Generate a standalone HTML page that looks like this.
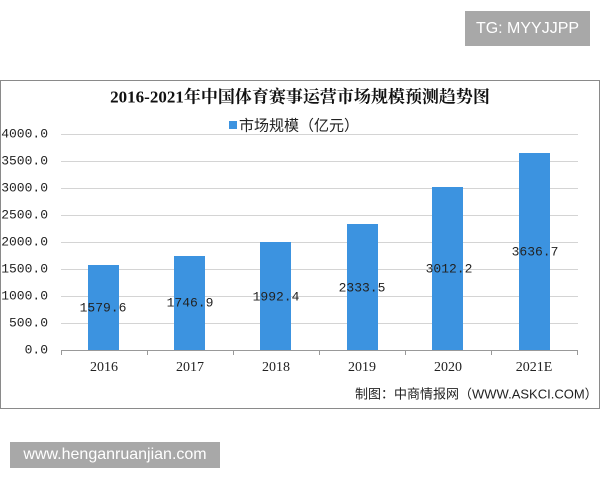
<!DOCTYPE html>
<html><head><meta charset="utf-8"><style>
body{margin:0;background:#fff;width:600px;height:480px;position:relative;overflow:hidden;font-family:"Liberation Serif","Noto Serif CJK SC",serif}
.abs{position:absolute}
.tick{position:absolute;right:552px;font-size:13px;color:#222;transform:translateY(-50%);white-space:nowrap;font-family:"Liberation Mono",monospace}
.bar{position:absolute;background:#3c93e0;width:31px}
.val{position:absolute;font-size:13px;color:#222;transform:translate(-50%,-50%);white-space:nowrap;font-family:"Liberation Mono",monospace}
.yr{position:absolute;top:368px;font-size:14px;color:#222;transform:translate(-50%,-50%)}
.grid{position:absolute;left:61px;width:517px;height:1px;background:#d4d4d4}
</style></head><body>
<div class="abs" style="left:465px;top:11px;width:125px;height:35px;background:#a8a8a8;color:#fff;font:16px 'Liberation Sans',sans-serif;line-height:35px;text-align:center">TG: MYYJJPP</div>
<div class="abs" style="left:0;top:80px;width:598px;height:327px;border:1px solid #8a8a8a"></div>
<div class="abs" style="left:0;top:95px;width:600px;text-align:center;font-size:17px;font-weight:bold;color:#111;transform:translateY(-50%);font-family:'Liberation Serif','Noto Serif CJK SC',serif">2016-2021年中国体育赛事运营市场规模预测趋势图</div>
<div class="abs" style="left:229px;top:121px;width:8px;height:8px;background:#3c93e0"></div>
<div class="abs" style="left:239px;top:125px;font-size:15px;color:#222;transform:translateY(-50%);font-family:'Liberation Sans','Noto Sans CJK SC',sans-serif">市场规模（亿元）</div>
<div class="grid" style="top:134px"></div><div class="grid" style="top:161px"></div><div class="grid" style="top:188px"></div><div class="grid" style="top:215px"></div><div class="grid" style="top:242px"></div><div class="grid" style="top:269px"></div><div class="grid" style="top:296px"></div><div class="grid" style="top:323px"></div>
<div class="abs" style="left:61px;top:350px;width:517px;height:1px;background:#999"></div>
<div class="abs" style="left:61px;top:350px;width:1px;height:5px;background:#999"></div>
<div class="abs" style="left:147px;top:350px;width:1px;height:5px;background:#999"></div>
<div class="abs" style="left:233px;top:350px;width:1px;height:5px;background:#999"></div>
<div class="abs" style="left:319px;top:350px;width:1px;height:5px;background:#999"></div>
<div class="abs" style="left:405px;top:350px;width:1px;height:5px;background:#999"></div>
<div class="abs" style="left:491px;top:350px;width:1px;height:5px;background:#999"></div>
<div class="abs" style="left:577px;top:350px;width:1px;height:5px;background:#999"></div>
<div class="tick" style="top:134px">4000.0</div><div class="tick" style="top:161px">3500.0</div><div class="tick" style="top:188px">3000.0</div><div class="tick" style="top:215px">2500.0</div><div class="tick" style="top:242px">2000.0</div><div class="tick" style="top:269px">1500.0</div><div class="tick" style="top:296px">1000.0</div><div class="tick" style="top:323px">500.0</div><div class="tick" style="top:350px">0.0</div>
<div class="bar" style="left:88px;top:265px;height:85px"></div>
<div class="bar" style="left:174px;top:256px;height:94px"></div>
<div class="bar" style="left:260px;top:242px;height:108px"></div>
<div class="bar" style="left:347px;top:224px;height:126px"></div>
<div class="bar" style="left:432px;top:187px;height:163px"></div>
<div class="bar" style="left:519px;top:153px;height:197px"></div>
<div class="val" style="left:103px;top:308px">1579.6</div>
<div class="val" style="left:190px;top:303px">1746.9</div>
<div class="val" style="left:276px;top:297px">1992.4</div>
<div class="val" style="left:362px;top:288px">2333.5</div>
<div class="val" style="left:449px;top:269px">3012.2</div>
<div class="val" style="left:535px;top:252px">3636.7</div>
<div class="yr" style="left:104px">2016</div><div class="yr" style="left:190px">2017</div><div class="yr" style="left:276px">2018</div><div class="yr" style="left:362px">2019</div><div class="yr" style="left:448px">2020</div><div class="yr" style="left:534px">2021E</div>
<div class="abs" style="left:355px;top:393px;font-size:13px;color:#222;transform:translateY(-50%);font-family:'Liberation Sans','Noto Sans CJK SC',sans-serif;white-space:nowrap">制图：中商情报网（WWW.ASKCI.COM）</div>
<div class="abs" style="left:10px;top:442px;width:210px;height:26px;background:#a8a8a8;color:#fff;font:16px 'Liberation Sans',sans-serif;line-height:26px;text-align:center">www.henganruanjian.com</div>
</body></html>
